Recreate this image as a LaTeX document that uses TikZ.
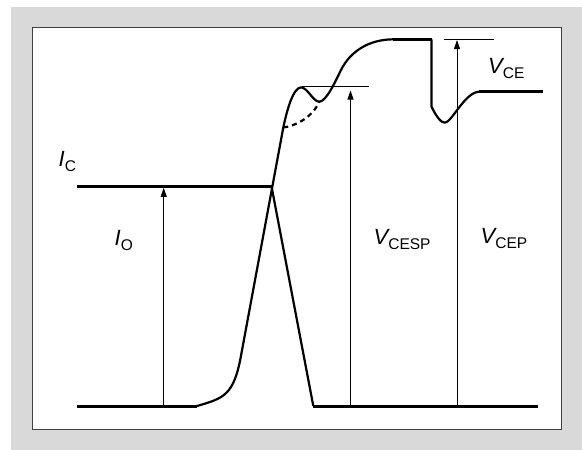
\documentclass[tikz,border=0pt]{standalone}
\usepackage{fontspec}
\setmainfont{Liberation Sans}
\usetikzlibrary{arrows.meta}

% Formelzeichen mit Index
\newcommand{\grsub}[2]{{\fontsize{22}{22}\selectfont\itshape #1}\raisebox{-5.5pt}{\fontsize{15.5}{15.5}\selectfont #2}}

\begin{document}
\begin{tikzpicture}[x=1pt,y=-1pt,
  dick/.style={line width=3pt},
  kurve/.style={line width=2.2pt, line join=round},
  duenn/.style={line width=0.9pt},
  pfeil/.style={line width=0.9pt, -{Triangle[length=9pt,width=6pt]}},
  beschr/.style={inner sep=0pt, anchor=base west}]

% Pegel
\def\ynull{406}
\def\yic{186.3}
\def\yspitze{39.3}

% ------------------- Hintergrund -------------------
\useasboundingbox (0,0) rectangle (582,450);
\fill[gray!30] (11,7) rectangle (582,450);
\draw[black!75, line width=0.8pt, fill=white] (32.5,27) rectangle (561.5,429);

% ------------------- Strom I_C -------------------
\coordinate (icl) at (77,\yic);
\coordinate (ick) at (271.5,\yic);
\coordinate (icu) at (313.3,\ynull);
\coordinate (icr) at (538,\ynull);

\draw[dick] (icl) -- (ick);
\draw[kurve] (ick) -- (icu);
\draw[dick] (icu) -- (icr);

% ------------------- Spannung V_CE -------------------
\coordinate (vl) at (77,\ynull);
\coordinate (va) at (197,\ynull);
\coordinate (vs) at (241.5,353);
\coordinate (vk) at (283.3,127.5);
\coordinate (vp) at (301,87.3);
\coordinate (vd) at (319.3,101.7);
\coordinate (vw) at (341,70);
\coordinate (vo) at (393.3,\yspitze);
\coordinate (vr) at (431.5,\yspitze);
\coordinate (vu) at (431.5,106.7);
\coordinate (vm) at (445,122.7);
\coordinate (ve) at (479.3,91.7);
\coordinate (vend) at (543.3,91.7);

\draw[dick] (vl) -- (va);
\draw[kurve] (va) .. controls (224,398) and (234,396) .. (vs) -- (vk)
  .. controls (287,110) and (293,88) .. (vp)
  .. controls (308,88) and (313,101.7) .. (vd)
  .. controls (326.5,101.5) and (335.6,80.7) .. (vw)
  .. controls (350,52) and (368,39.5) .. (vo);
\draw[dick] (vo) -- (vr);
\draw[kurve] (vr) -- (vu)
  .. controls (436,116) and (441,123) .. (vm)
  .. controls (452,122) and (465,92) .. (ve);
\draw[dick] (ve) -- (vend);

% gestrichelter Verlauf
\draw[kurve, dash pattern=on 5pt off 4pt] (vk) .. controls (295,126) and (312,118) .. (vd);

% ------------------- Bezugslinien und Pfeile -------------------
\coordinate (hl1) at (301.7,86.7);
\coordinate (hl2) at (369.3,86.7);
\coordinate (hr1) at (444,\yspitze);
\coordinate (hr2) at (493.5,\yspitze);
\draw[duenn] (hl1) -- (hl2);
\draw[duenn] (hr1) -- (hr2);

\coordinate (io0) at (163.7,\ynull);
\coordinate (io1) at (163.7,187.8);
\coordinate (vsp0) at (350.5,\ynull);
\coordinate (vsp1) at (350.5,90.5);
\coordinate (vep0) at (457,\ynull);
\coordinate (vep1) at (457,40);
\draw[pfeil] (io0) -- (io1);
\draw[pfeil] (vsp0) -- (vsp1);
\draw[pfeil] (vep0) -- (vep1);

% ------------------- Beschriftung -------------------
\node[beschr] (ic) at (58.5,166) {\grsub{I}{C}};
\node[beschr] (io) at (114.5,245) {\grsub{I}{O}};
\node[beschr] (vcesp) at (373.5,244.3) {\grsub{V}{CESP}};
\node[beschr] (vcep) at (480.5,243) {\grsub{V}{CEP}};
\node[beschr] (vce) at (488,73.3) {\grsub{V}{CE}};

\end{tikzpicture}
\end{document}
